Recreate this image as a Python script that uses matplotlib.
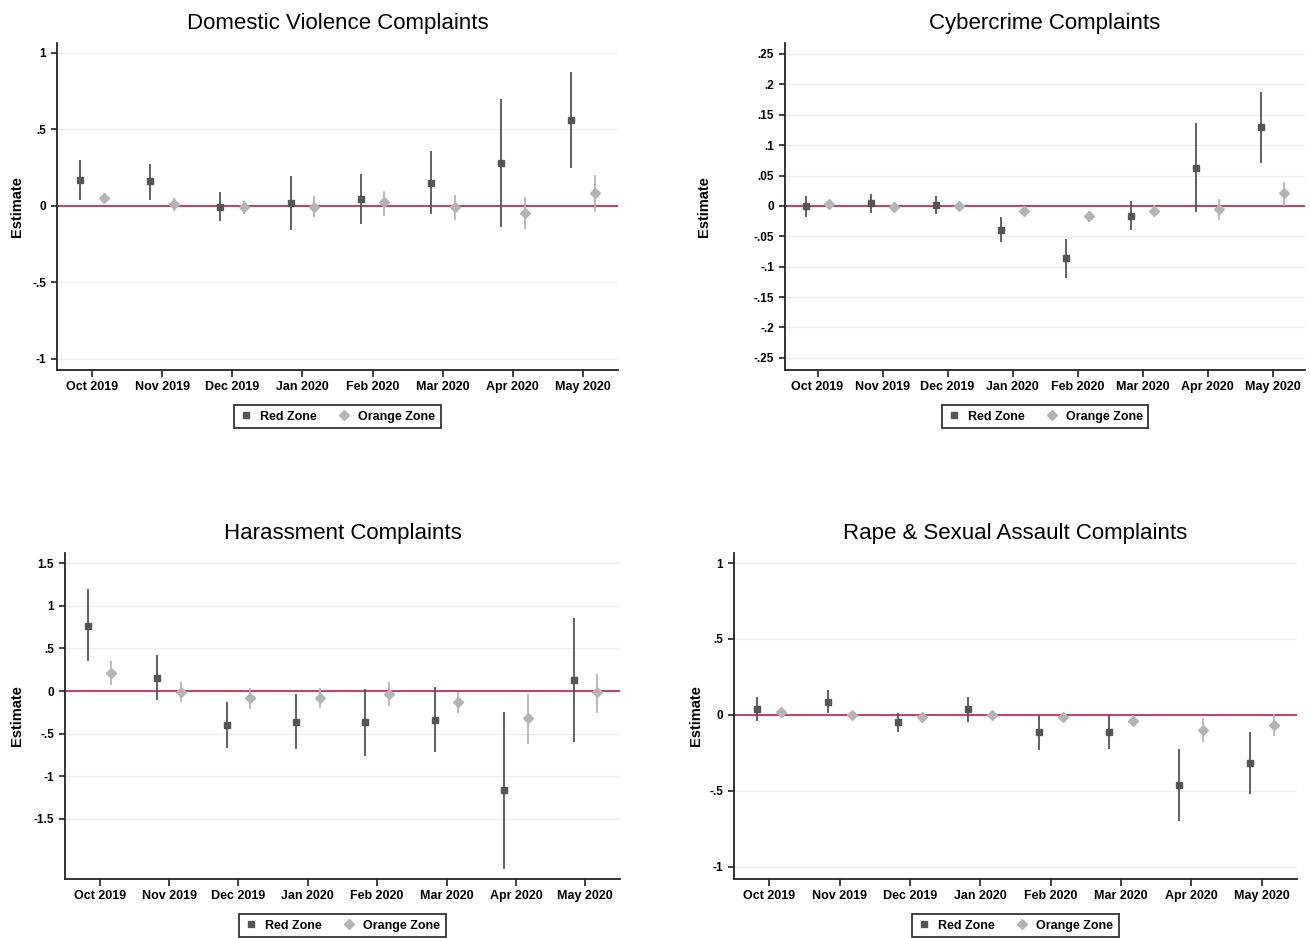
import matplotlib.pyplot as plt
from matplotlib.lines import Line2D

plt.rcParams["font.family"] = ["Liberation Sans", "DejaVu Sans"]

MONTHS = ["Oct 2019", "Nov 2019", "Dec 2019", "Jan 2020",
          "Feb 2020", "Mar 2020", "Apr 2020", "May 2020"]

# Domestic violence
dv_red = [0.17, 0.163, -0.004, 0.02, 0.046, 0.152, 0.283, 0.562]
dv_red_lo = [0.04, 0.04, -0.10, -0.16, -0.118, -0.055, -0.135, 0.25]
dv_red_hi = [0.30, 0.275, 0.09, 0.196, 0.207, 0.36, 0.70, 0.876]
dv_org = [0.05, 0.013, -0.005, -0.004, 0.026, -0.006, -0.044, 0.087]
dv_org_lo = [0.01, -0.035, -0.05, -0.074, -0.065, -0.09, -0.152, -0.037]
dv_org_hi = [0.083, 0.05, 0.03, 0.065, 0.10, 0.074, 0.057, 0.205]
dv_yticks = [1, 0.5, 0, -0.5, -1]
dv_ylabels = ["1", ".5", "0", "-.5", "-1"]

# Cybercrime
cc_red = [-0.001, 0.004, 0.002, -0.039, -0.086, -0.016, 0.063, 0.129]
cc_red_lo = [-0.019, -0.012, -0.014, -0.060, -0.119, -0.040, -0.010, 0.071]
cc_red_hi = [0.016, 0.019, 0.016, -0.019, -0.054, 0.008, 0.136, 0.187]
cc_org = [0.003, -0.002, 0.0, -0.009, -0.016, -0.008, -0.005, 0.021]
cc_org_lo = [-0.005, -0.01, -0.008, -0.016, -0.027, -0.019, -0.023, -0.001]
cc_org_hi = [0.01, 0.006, 0.008, -0.001, -0.008, 0.001, 0.012, 0.040]
cc_yticks = [0.25, 0.2, 0.15, 0.1, 0.05, 0, -0.05, -0.1, -0.15, -0.2, -0.25]
cc_ylabels = [".25", ".2", ".15", ".1", ".05", "0",
              "-.05", "-.1", "-.15", "-.2", "-.25"]

# Harassment
ha_red = [0.766, 0.156, -0.40, -0.36, -0.367, -0.336, -1.164, 0.125]
ha_red_lo = [0.35, -0.10, -0.664, -0.68, -0.758, -0.71, -2.086, -0.60]
ha_red_hi = [1.195, 0.418, -0.13, -0.04, 0.027, 0.043, -0.242, 0.855]
ha_org = [0.21, -0.012, -0.086, -0.082, -0.035, -0.133, -0.32, -0.008]
ha_org_lo = [0.07, -0.133, -0.21, -0.195, -0.18, -0.258, -0.617, -0.258]
ha_org_hi = [0.35, 0.10, 0.035, 0.035, 0.10, -0.008, -0.04, 0.20]
ha_yticks = [1.5, 1, 0.5, 0, -0.5, -1, -1.5]
ha_ylabels = ["1.5", "1", ".5", "0", "-.5", "-1", "-1.5"]

# Rape & sexual assault
rs_red = [0.042, 0.088, -0.048, 0.042, -0.114, -0.114, -0.46, -0.316]
rs_red_lo = [-0.037, 0.013, -0.11, -0.048, -0.232, -0.224, -0.697, -0.522]
rs_red_hi = [0.118, 0.162, 0.013, 0.118, 0.0, 0.0, -0.224, -0.11]
rs_org = [0.02, 0.002, -0.013, 0.002, -0.015, -0.037, -0.10, -0.068]
rs_org_lo = [0.0, -0.015, -0.033, -0.018, -0.035, -0.075, -0.18, -0.136]
rs_org_hi = [0.04, 0.02, 0.005, 0.02, 0.0, 0.0, -0.022, 0.004]
rs_yticks = [1, 0.5, 0, -0.5, -1]
rs_ylabels = ["1", ".5", "0", "-.5", "-1"]

RED_C = "#555555"
ORG_C = "#b4b4b4"
ZERO_C = "#cc3a60"
W, H = 1310, 938


def px_axes(fig, left, top, right, bottom):
    return fig.add_axes([left / W, 1 - bottom / H, (right - left) / W, (bottom - top) / H])


def draw_panel(ax, title, red, rlo, rhi, org, olo, ohi, yticks, ylabels,
               ylim, label_x):
    x = list(range(len(MONTHS)))
    xr = [v - 0.17 for v in x]
    xo = [v + 0.17 for v in x]

    for t in yticks:
        ax.axhline(t, color="#efefef", lw=1.0, zorder=0)
    ax.axhline(0, color=ZERO_C, lw=1.4, zorder=1)

    ax.vlines(xr, rlo, rhi, color=RED_C, lw=1.3, zorder=2)
    ax.vlines(xo, olo, ohi, color=ORG_C, lw=1.3, zorder=2)
    ax.plot(xr, red, ls="none", marker="s", ms=5, color=RED_C, zorder=3)
    ax.plot(xo, org, ls="none", marker="D", ms=5.2, color=ORG_C, zorder=3)

    ax.set_xlim(-0.5, len(MONTHS) - 0.5)
    ax.set_ylim(*ylim)
    ax.set_xticks(x)
    ax.set_xticklabels(MONTHS, fontsize=9, fontweight="bold")
    ax.set_yticks(yticks)
    ax.set_yticklabels(ylabels, fontsize=8.5, fontweight="bold")
    ax.tick_params(direction="out", length=4, width=1.2, color="#222222", pad=4)
    ax.tick_params(axis="x", length=5, pad=3)

    for side in ("top", "right"):
        ax.spines[side].set_visible(False)
    for side in ("left", "bottom"):
        ax.spines[side].set_linewidth(1.3)
        ax.spines[side].set_color("#222222")

    ax.set_ylabel("Estimate", fontsize=10.5, fontweight="bold")
    ax.yaxis.set_label_coords(label_x, 0.5)
    ax.set_title(title, fontsize=16, pad=10)

    handles = [
        Line2D([], [], ls="none", marker="s", ms=4, color=RED_C),
        Line2D([], [], ls="none", marker="D", ms=5.5, color=ORG_C),
    ]
    leg = ax.legend(handles, ["Red Zone", "Orange Zone"], loc="upper center",
                    bbox_to_anchor=(0.5, -0.088), ncol=2, frameon=True,
                    fancybox=False, prop={"size": 9, "weight": "bold"},
                    handlelength=1.0, handletextpad=0.6, columnspacing=1.7,
                    borderpad=0.45)
    leg.get_frame().set_edgecolor("black")
    leg.get_frame().set_linewidth(1.3)


fig = plt.figure(figsize=(13.1, 9.38), dpi=100)

ax1 = px_axes(fig, 57, 43, 618, 370)
draw_panel(ax1, "Domestic Violence Complaints", dv_red, dv_red_lo, dv_red_hi,
           dv_org, dv_org_lo, dv_org_hi, dv_yticks, dv_ylabels,
           (-1.072, 1.065), -0.059)

ax2 = px_axes(fig, 785, 43, 1305, 370)
draw_panel(ax2, "Cybercrime Complaints", cc_red, cc_red_lo, cc_red_hi,
           cc_org, cc_org_lo, cc_org_hi, cc_yticks, cc_ylabels,
           (-0.270, 0.268), -0.142)

ax3 = px_axes(fig, 65, 553, 620, 879)
draw_panel(ax3, "Harassment Complaints", ha_red, ha_red_lo, ha_red_hi,
           ha_org, ha_org_lo, ha_org_hi, ha_yticks, ha_ylabels,
           (-2.204, 1.618), -0.074)

ax4 = px_axes(fig, 734, 553, 1297, 879)
draw_panel(ax4, "Rape & Sexual Assault Complaints", rs_red, rs_red_lo, rs_red_hi,
           rs_org, rs_org_lo, rs_org_hi, rs_yticks, rs_ylabels,
           (-1.08, 1.066), -0.055)

fig.savefig("out.png", dpi=100, facecolor="white")
